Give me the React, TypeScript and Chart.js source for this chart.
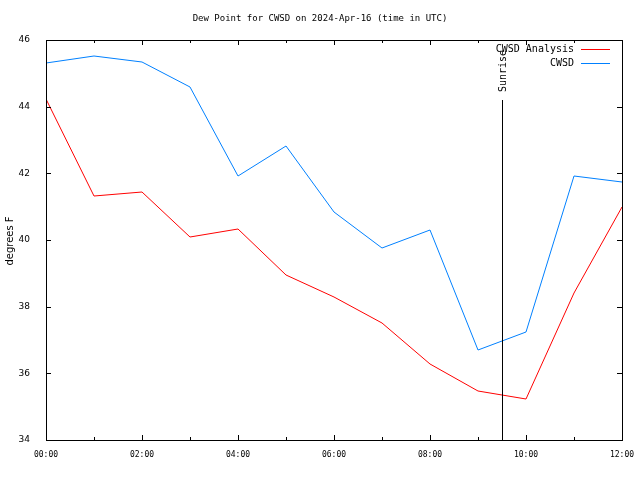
import React, { useEffect, useRef } from "react";
import { Chart, registerables } from "chart.js";

Chart.register(...registerables);

const hours = [0, 1, 2, 3, 4, 5, 6, 7, 8, 9, 10, 11, 12];
const analysisValues = [44.23, 41.32, 41.44, 40.09, 40.33, 38.95, 38.29, 37.51, 36.28, 35.47, 35.23, 38.41, 40.99];
const stationValues = [45.31, 45.52, 45.34, 44.59, 41.92, 42.82, 40.84, 39.76, 40.3, 36.7, 37.24, 41.92, 41.74];
const xTickLabels = ["00:00", "", "02:00", "", "04:00", "", "06:00", "", "08:00", "", "10:00", "", "12:00"];
const yTicks = [34, 36, 38, 40, 42, 44, 46];
const sunriseHour = 9.5;
const seriesNames = ["CWSD Analysis", "CWSD"];
const seriesColors = ["#ff0000", "#0080ff"];
const titleText = "Dew Point for CWSD on 2024-Apr-16 (time in UTC)";
const yAxisTitle = "degrees F";

const FONT = "'DejaVu Sans Mono', monospace";
const SANS = "'DejaVu Sans', sans-serif";

const overlay = {
  id: "gnuplotOverlay",
  afterDraw(chart: any) {
    const ctx = chart.ctx as CanvasRenderingContext2D;
    const { left, right, top, bottom } = chart.chartArea;
    const xs = chart.scales.x;
    const ys = chart.scales.y;
    ctx.save();
    ctx.strokeStyle = "#000";
    ctx.lineWidth = 1;
    // border
    ctx.strokeRect(Math.round(left) + 0.5, Math.round(top) + 0.5, Math.round(right - left), Math.round(bottom - top));
    // x ticks
    hours.forEach((h) => {
      const px = Math.round(xs.getPixelForValue(h)) + 0.5;
      const len = h % 2 === 0 ? 5 : 3;
      ctx.beginPath();
      ctx.moveTo(px, bottom);
      ctx.lineTo(px, bottom - len);
      ctx.moveTo(px, top);
      ctx.lineTo(px, top + len);
      ctx.stroke();
    });
    // y ticks
    yTicks.forEach((v) => {
      const py = Math.round(ys.getPixelForValue(v)) + 0.5;
      ctx.beginPath();
      ctx.moveTo(left, py);
      ctx.lineTo(left + 5, py);
      ctx.moveTo(right, py);
      ctx.lineTo(right - 5, py);
      ctx.stroke();
    });
    // sunrise line
    const sx = Math.round(xs.getPixelForValue(sunriseHour)) + 0.5;
    ctx.beginPath();
    ctx.moveTo(sx, ys.getPixelForValue(44.2));
    ctx.lineTo(sx, bottom);
    ctx.stroke();
    ctx.fillStyle = "#000";
    ctx.font = `10px ${FONT}`;
    ctx.save();
    ctx.translate(sx + 1, 92);
    ctx.rotate(-Math.PI / 2);
    ctx.textAlign = "left";
    ctx.textBaseline = "middle";
    ctx.fillText("Sunrise", 0, 0);
    ctx.restore();
    // title
    ctx.font = `9px ${FONT}`;
    ctx.textAlign = "center";
    ctx.textBaseline = "middle";
    ctx.fillText(titleText, 320, 19);
    // y axis title
    ctx.save();
    ctx.font = `10px ${SANS}`;
    ctx.translate(10, 241);
    ctx.rotate(-Math.PI / 2);
    ctx.textAlign = "center";
    ctx.textBaseline = "middle";
    ctx.fillText(yAxisTitle, 0, 0);
    ctx.restore();
    // legend
    ctx.font = `10px ${FONT}`;
    seriesNames.forEach((name, i) => {
      const ly = 49 + i * 14;
      ctx.textAlign = "right";
      ctx.textBaseline = "middle";
      ctx.fillStyle = "#000";
      ctx.fillText(name, 574, ly);
      ctx.strokeStyle = seriesColors[i];
      ctx.beginPath();
      ctx.moveTo(581, ly + 0.5);
      ctx.lineTo(610, ly + 0.5);
      ctx.stroke();
    });
    ctx.restore();
  },
};

export default function App() {
  const ref = useRef<HTMLCanvasElement>(null);
  useEffect(() => {
    if (!ref.current) return;
    const chart = new Chart(ref.current, {
      type: "line",
      data: {
        labels: hours,
        datasets: [
          {
            label: seriesNames[0],
            data: hours.map((h, i) => ({ x: h, y: analysisValues[i] })),
            borderColor: seriesColors[0],
            borderWidth: 1,
            pointRadius: 0,
            tension: 0,
            fill: false,
          },
          {
            label: seriesNames[1],
            data: hours.map((h, i) => ({ x: h, y: stationValues[i] })),
            borderColor: seriesColors[1],
            borderWidth: 1,
            pointRadius: 0,
            tension: 0,
            fill: false,
          },
        ],
      },
      options: {
        animation: false,
        responsive: false,
        devicePixelRatio: 1,
        layout: { padding: { top: 40, right: 18, left: 0, bottom: 0 } },
        plugins: { legend: { display: false }, tooltip: { enabled: false }, title: { display: false } },
        scales: {
          x: {
            type: "linear",
            min: 0,
            max: 12,
            grid: { display: false },
            border: { display: false },
            afterFit: (s: any) => {
              s.height = 40;
              s.paddingLeft = 0;
              s.paddingRight = 0;
            },
            ticks: {
              stepSize: 1,
              autoSkip: false,
              maxRotation: 0,
              padding: 2,
              color: "#000",
              font: { family: FONT, size: 8 },
              callback: (v: any) => xTickLabels[Number(v)] ?? "",
            },
          },
          y: {
            min: 34,
            max: 46,
            grid: { display: false },
            border: { display: false },
            afterFit: (s: any) => {
              s.width = 46;
              s.paddingTop = 0;
              s.paddingBottom = 0;
            },
            ticks: {
              stepSize: 2,
              padding: 8,
              color: "#000",
              font: { family: SANS, size: 9 },
            },
          },
        },
      },
      plugins: [overlay],
    });
    return () => chart.destroy();
  }, []);
  return (
    <canvas
      ref={ref}
      width={640}
      height={480}
      style={{ position: "fixed", left: 0, top: 0, width: 640, height: 480, background: "#fff" }}
    />
  );
}
